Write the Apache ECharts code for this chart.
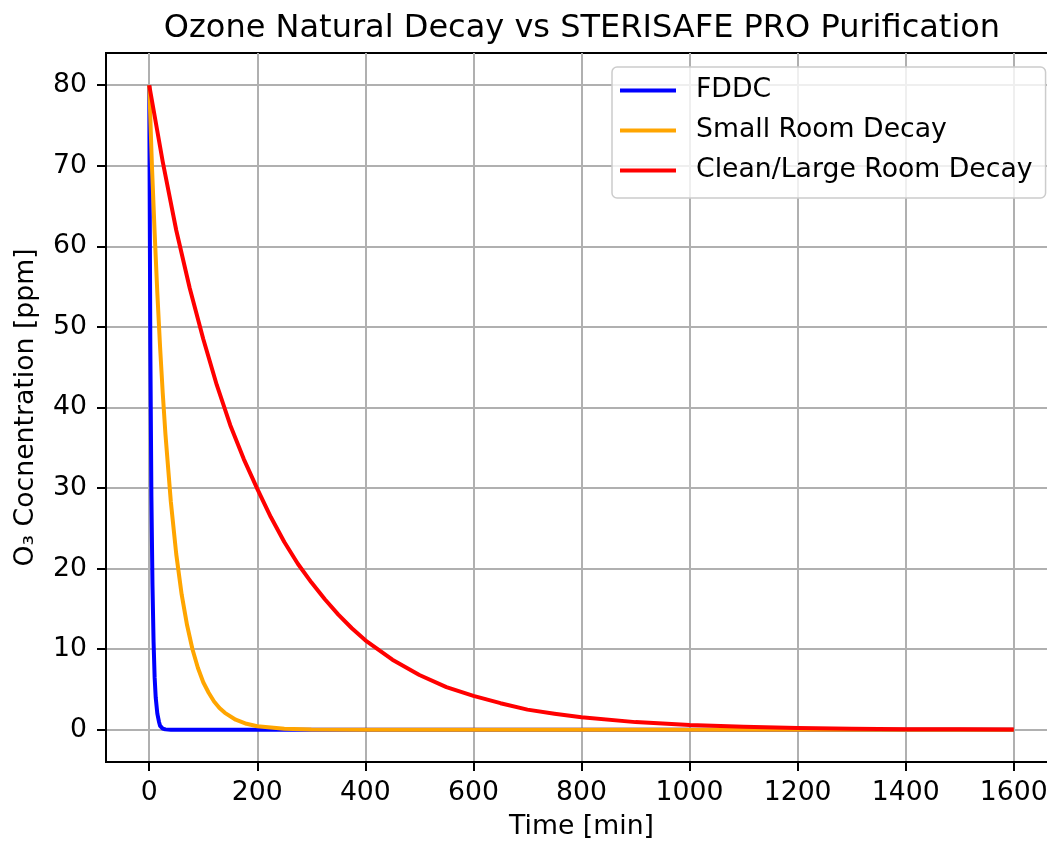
<!DOCTYPE html>
<html>
<head>
<meta charset="utf-8">
<script src="https://cdn.jsdelivr.net/npm/echarts@6/dist/echarts.min.js"></script>
<style>
  html, body { margin: 0; padding: 0; background: #fff; }
  #chart { width: 1047px; height: 843px; }
</style>
</head>
<body>
<div id="chart"></div>
<script>
// values (time in min, O3 in ppm)
const fddcTime = [0, 2, 4, 6, 8, 10, 12, 15, 18, 20, 25, 30, 40, 60, 100, 200, 400, 800, 1200, 1600];
const fddcValue = [80, 48, 29, 18, 11, 6.5, 4, 2, 1, 0.5, 0.15, 0.05, 0, 0, 0, 0, 0, 0, 0, 0];

const smallTime = [0, 5, 10, 15, 20, 25, 30, 40, 50, 60, 70, 80, 90, 100, 110, 120, 130, 140, 160, 180, 200, 250, 300, 400, 600, 800, 1200, 1600];
const smallValue = [80, 70, 61.7, 54.2, 47.6, 41.8, 36.7, 28.3, 21.8, 16.8, 13.0, 10.0, 7.7, 5.9, 4.6, 3.5, 2.7, 2.1, 1.25, 0.74, 0.44, 0.12, 0.03, 0, 0, 0, 0, 0];

const largeTime = [0, 25, 50, 75, 100, 125, 150, 175, 200, 225, 250, 275, 300, 325, 350, 375, 400, 450, 500, 550, 600, 650, 700, 750, 800, 900, 1000, 1100, 1200, 1300, 1400, 1500, 1600];
const largeValue = [80, 70.5, 62, 54.8, 48.5, 42.8, 37.8, 33.6, 29.9, 26.4, 23.3, 20.6, 18.3, 16.2, 14.3, 12.6, 11.1, 8.7, 6.8, 5.3, 4.2, 3.3, 2.5, 2.0, 1.55, 0.95, 0.58, 0.36, 0.22, 0.13, 0.08, 0.05, 0.03];

const seriesNames = ['FDDC', 'Small Room Decay', 'Clean/Large Room Decay'];
const seriesColors = ['#0000ff', '#ffa500', '#ff0000'];

const xTicks = [0, 200, 400, 600, 800, 1000, 1200, 1400, 1600];
const yTicks = [0, 10, 20, 30, 40, 50, 60, 70, 80];

const pairs = (t, v) => t.map((x, i) => [x, v[i]]);
const seriesData = [
  pairs(fddcTime, fddcValue),
  pairs(smallTime, smallValue),
  pairs(largeTime, largeValue)
];

const font = 'DejaVu Sans';

const chart = echarts.init(document.getElementById('chart'), null, { renderer: 'canvas' });

const option = {
  backgroundColor: '#fff',
  animation: false,
  title: {
    text: 'Ozone Natural Decay vs STERISAFE PRO Purification',
    left: 577,
    textAlign: 'center',
    top: 8,
    textStyle: { fontFamily: font, fontSize: 32, fontWeight: 'normal', color: '#000' }
  },
  legend: {
    orient: 'vertical',
    left: 612,
    top: 67,
    padding: [8, 13, 12, 8],
    itemGap: 9,
    itemWidth: 56,
    itemHeight: 4,
    icon: 'rect',
    backgroundColor: 'rgba(255,255,255,0.8)',
    borderColor: '#cccccc',
    borderWidth: 1.5,
    borderRadius: 5,
    textStyle: {
      fontFamily: font, fontSize: 26.7, color: '#000',
      lineHeight: 31, padding: [0, 0, 0, 15]
    },
    data: seriesNames
  },
  grid: {
    show: true,
    borderColor: '#000',
    borderWidth: 2,
    left: 106,
    top: 53,
    right: -10,
    bottom: 81,
    outerBoundsMode: 'none',
    containLabel: false
  },
  xAxis: {
    type: 'value',
    min: -80,
    max: 1680,
    name: 'Time [min]',
    nameLocation: 'middle',
    nameGap: 52,
    nameTextStyle: { fontFamily: font, fontSize: 26.7, color: '#000' },
    axisLine: { show: true, onZero: false, lineStyle: { color: '#000', width: 2 } },
    axisTick: { show: true, length: 9, lineStyle: { color: '#000', width: 2 }, customValues: xTicks },
    axisLabel: {
      margin: 18, fontFamily: font, fontSize: 26.7, color: '#000',
      customValues: xTicks, formatter: v => String(v)
    },
    splitLine: { show: true, lineStyle: { color: '#b0b0b0', width: 2 } }
  },
  yAxis: {
    type: 'value',
    min: -4,
    max: 84,
    name: 'O\u2083 Cocnentration [ppm]',
    nameLocation: 'middle',
    nameRotate: 90,
    nameGap: 66,
    nameTextStyle: { fontFamily: font, fontSize: 26.7, color: '#000' },
    axisLine: { show: true, onZero: false, lineStyle: { color: '#000', width: 2 } },
    axisTick: { show: true, length: 9, lineStyle: { color: '#000', width: 2 }, customValues: yTicks },
    axisLabel: {
      margin: 19, fontFamily: font, fontSize: 26.7, color: '#000',
      customValues: yTicks, formatter: v => String(v)
    },
    splitLine: { show: true, lineStyle: { color: '#b0b0b0', width: 2 } }
  },
  series: seriesNames.map((name, i) => ({
    name: name,
    type: 'line',
    data: seriesData[i],
    showSymbol: false,
    symbol: 'none',
    smooth: false,
    color: seriesColors[i],
    lineStyle: { color: seriesColors[i], width: 4, join: 'round' }
  }))
};

chart.setOption(option);
</script>
</body>
</html>
